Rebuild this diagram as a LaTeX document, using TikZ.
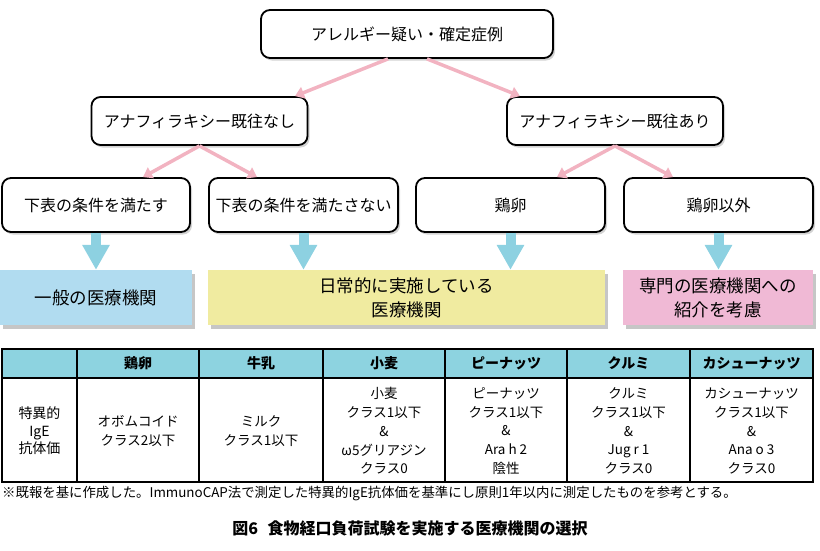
\documentclass[tikz,border=0pt]{standalone}
\usepackage{fontspec}
\setmainfont{Noto Sans CJK JP}
\usetikzlibrary{arrows.meta,shadows,positioning,calc}
\definecolor{pinkline}{HTML}{F2B3C1}
\definecolor{bluedown}{HTML}{8DD1E1}
\definecolor{ippanfill}{HTML}{B1DCF0}
\definecolor{nichijofill}{HTML}{F0EBA0}
\definecolor{senmonfill}{HTML}{F0B9D5}
\definecolor{headfill}{HTML}{8DD3E0}
\tikzset{%
        flowbox/.style = {
            draw = black,
            fill = white,
            line width = 1.8pt,
            rounded corners = 9pt,
            minimum height = 48pt,
            align = center,
            font = \fontsize{16}{19}\selectfont,
            drop shadow = {shadow xshift=2pt, shadow yshift=-2.5pt, opacity=0.35}
        },
        resultbox/.style = {
            minimum height = 55pt,
            align = center,
            font = \fontsize{17.5}{24}\selectfont,
            drop shadow = {shadow xshift=3pt, shadow yshift=-3.5pt, opacity=0.45}
        },
        pinkarrow/.style = {
            draw = pinkline,
            line width = 3.5pt,
            -{Triangle[length=9pt,width=12pt]}
        },
        bluearrow/.style = {
            draw = bluedown,
            line width = 10pt,
            -{Triangle[length=25pt,width=26pt]}
        },
        headcell/.style = {font=\fontsize{14}{17}\bfseries\selectfont},
        bodycell/.style = {align=center, font=\fontsize{13.5}{18.7}\selectfont}
}

\begin{document}
\begin{tikzpicture}[x=1pt,y=-1pt]
        \useasboundingbox (0,0) rectangle (820,550);
        % flow chart
        \node[flowbox, minimum width=292pt] (top) at (407,34) {アレルギー疑い・確定症例};
        \node[flowbox, minimum width=216pt] (nashi) at (199.5,121) {アナフィラキシー既往なし};
        \node[flowbox, minimum width=216pt] (ari) at (615,121) {アナフィラキシー既往あり};
        \node[flowbox, minimum width=188pt, minimum height=54pt] (mitasu) at (96,205) {下表の条件を満たす};
        \node[flowbox, minimum width=189pt, minimum height=54pt] (mitasanai) at (303.5,205) {下表の条件を満たさない};
        \node[flowbox, minimum width=189pt, minimum height=54pt] (keiran) at (510.5,205) {鶏卵};
        \node[flowbox, minimum width=189pt, minimum height=54pt] (igai) at (718.5,205) {鶏卵以外};
        \node[resultbox, fill=ippanfill, minimum width=192pt] (ippan) at (96,297.5) {一般の医療機関};
        \node[resultbox, fill=nichijofill, minimum width=397pt] (nichijo) at (406.5,297.5) {日常的に実施している\\医療機関};
        \node[resultbox, fill=senmonfill, minimum width=190pt] (senmon) at (718,297.5) {専門の医療機関への\\紹介を考慮};
      \path
      ([xshift=-19pt]top.south) edge[pinkarrow] ([xshift=95.5pt]nashi.north)
      ([xshift=20pt]top.south) edge[pinkarrow] ([xshift=-95pt]ari.north)
      (nashi.south) edge[pinkarrow] ([xshift=47pt]mitasu.north)
      (nashi.south) edge[pinkarrow] ([xshift=-46.5pt]mitasanai.north)
      (ari.south) edge[pinkarrow] ([xshift=46.5pt]keiran.north)
      (ari.south) edge[pinkarrow] ([xshift=-45.5pt]igai.north)
      ;
        \draw[bluearrow] (mitasu.south) -- (mitasu.south |- ippan.north);
        \draw[bluearrow] (mitasanai.south) -- (mitasanai.south |- nichijo.north);
        \draw[bluearrow] (keiran.south) -- (keiran.south |- nichijo.north);
        \draw[bluearrow] (igai.south) -- (igai.south |- senmon.north);
        % table
        \fill[headfill] (2,349) rectangle (813,378);
        \draw[line width=1.1pt] (2,349) rectangle (813,482);
        \draw[line width=1.1pt] (2,378) -- (813,378);
        \foreach \x in {77,199,323,445,567,690}
            \draw[line width=1.1pt] (\x,349) -- (\x,482);
        \foreach \x/\name/\lbl in {138/hkeiran/鶏卵, 261/hgyunyu/牛乳, 384/hkomugi/小麦,
            506/hpeanut/ピーナッツ, 628.5/hkurumi/クルミ, 751.5/hcashew/カシューナッツ}
            \node[headcell] (\name) at (\x,363.5) {\lbl};
        \node[bodycell, font=\fontsize{14}{17.5}\selectfont] (label) at (39.5,431) {特異的\\IgE\\抗体価};
        \node[bodycell] (ckeiran) at (138,431) {オボムコイド\\クラス2以下};
        \node[bodycell] (cgyunyu) at (261,431) {ミルク\\クラス1以下};
        \node[bodycell] (ckomugi) at (384,431) {小麦\\クラス1以下\\\&\\ω5グリアジン\\クラス0};
        \node[bodycell] (cpeanut) at (506,431) {ピーナッツ\\クラス1以下\\\&\\Ara h 2\\陰性};
        \node[bodycell] (ckurumi) at (628.5,431) {クルミ\\クラス1以下\\\&\\Jug r 1\\クラス0};
        \node[bodycell] (ccashew) at (751.5,431) {カシューナッツ\\クラス1以下\\\&\\Ana o 3\\クラス0};
        % notes
        \node[anchor=west, inner sep=0pt, font=\fontsize{13.4}{16}\selectfont] (note) at (2,494)
            {※既報を基に作成した。ImmunoCAP法で測定した特異的IgE抗体価を基準にし原則1年以内に測定したものを参考とする。};
        \node[font=\fontsize{16}{19}\bfseries\selectfont] (caption) at (410,528)
            {図6\hspace{0.6em}食物経口負荷試験を実施する医療機関の選択};
    \end{tikzpicture}
\end{document}
